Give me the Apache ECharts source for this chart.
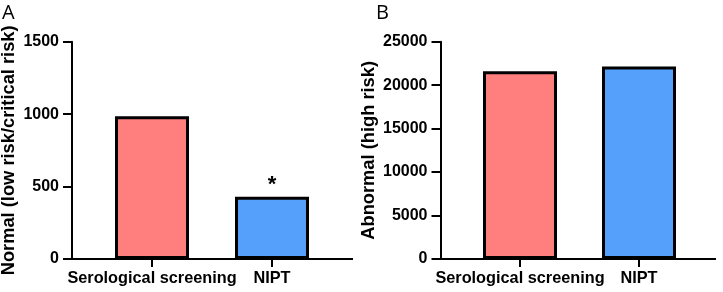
<!DOCTYPE html>
<html>
<head>
<meta charset="utf-8">
<script src="https://cdn.jsdelivr.net/npm/echarts@6/dist/echarts.min.js"></script>
<style>
  html, body { margin: 0; padding: 0; background: #fff; }
  #chart { width: 723px; height: 292px; }
</style>
</head>
<body>
<div id="chart"></div>
<script>
// data
const groups = ['Serological screening', 'NIPT'];
const normalCounts = [985, 430];      // panel A
const abnormalCounts = [21600, 22150]; // panel B
const normalMarks = ['', '*'];
const barColors = ['#FF7F7F', '#55A0FB'];

const font = '"Liberation Sans", Arial, sans-serif';
const axisBottom = 259;

const chart = echarts.init(document.getElementById('chart'));

function yAxisOf(gridIndex, max, interval, name, gap) {
  return {
    type: 'value',
    gridIndex: gridIndex,
    min: 0,
    max: max,
    interval: interval,
    offset: 20,
    name: name,
    nameLocation: 'middle',
    nameRotate: 90,
    nameGap: gap,
    nameTextStyle: { fontFamily: font, fontWeight: 'bold', fontSize: 18.3, color: '#000' },
    axisLine: { show: true, lineStyle: { color: '#000', width: 2 } },
    axisTick: { show: true, inside: false, length: 9, lineStyle: { color: '#000', width: 2 } },
    axisLabel: {
      margin: 13, fontFamily: font, fontWeight: 'bold', fontSize: 16, color: '#000',
      formatter: v => String(v)
    },
    splitLine: { show: false }
  };
}

function xAxisOf(gridIndex) {
  return {
    type: 'category',
    gridIndex: gridIndex,
    data: groups,
    axisLine: { show: false },
    axisTick: { show: true, alignWithLabel: true, length: 8, lineStyle: { color: '#000', width: 2 } },
    axisLabel: { margin: 12, fontFamily: font, fontWeight: 'bold', fontSize: 16.3, color: '#000', interval: 0 }
  };
}

function barsOf(idx, values, marks) {
  return {
    type: 'bar',
    xAxisIndex: idx,
    yAxisIndex: idx,
    barWidth: 74,
    data: values.map((v, i) => ({ value: v, itemStyle: { color: barColors[i] } })),
    itemStyle: { borderColor: '#000', borderWidth: 3 },
    label: {
      show: !!marks,
      position: 'top',
      distance: 1,
      fontFamily: font,
      fontWeight: 'bold',
      fontSize: 22,
      color: '#000',
      formatter: p => (marks ? marks[p.dataIndex] : '')
    },
    emphasis: { disabled: true },
    silent: true
  };
}

chart.setOption({
  animation: false,
  grid: [
    { left: 92, width: 240, top: 41.7, bottom: 292 - axisBottom, outerBoundsMode: 'none', containLabel: false },
    { left: 460.5, width: 238, top: 41.7, bottom: 292 - axisBottom, outerBoundsMode: 'none', containLabel: false }
  ],
  xAxis: [xAxisOf(0), xAxisOf(1)],
  yAxis: [
    yAxisOf(0, 1500, 500, 'Normal (low risk/critical risk)', 54),
    yAxisOf(1, 25000, 5000, 'Abnormal (high risk)', 63)
  ],
  series: [
    barsOf(0, normalCounts, normalMarks),
    barsOf(1, abnormalCounts, null)
  ],
  graphic: [
    // x axis lines run past the category bands, as in the figure
    { type: 'line', shape: { x1: 71, y1: axisBottom, x2: 353, y2: axisBottom }, style: { stroke: '#000', lineWidth: 2 }, z: 1 },
    { type: 'line', shape: { x1: 439, y1: axisBottom, x2: 716, y2: axisBottom }, style: { stroke: '#000', lineWidth: 2 }, z: 1 },
    { type: 'text', left: 2, top: 3, style: { text: 'A', font: '20px "Open Sans", sans-serif', fill: '#000' } },
    { type: 'text', left: 376, top: 3, style: { text: 'B', font: '20px "Open Sans", sans-serif', fill: '#000' } }
  ]
});
</script>
</body>
</html>
